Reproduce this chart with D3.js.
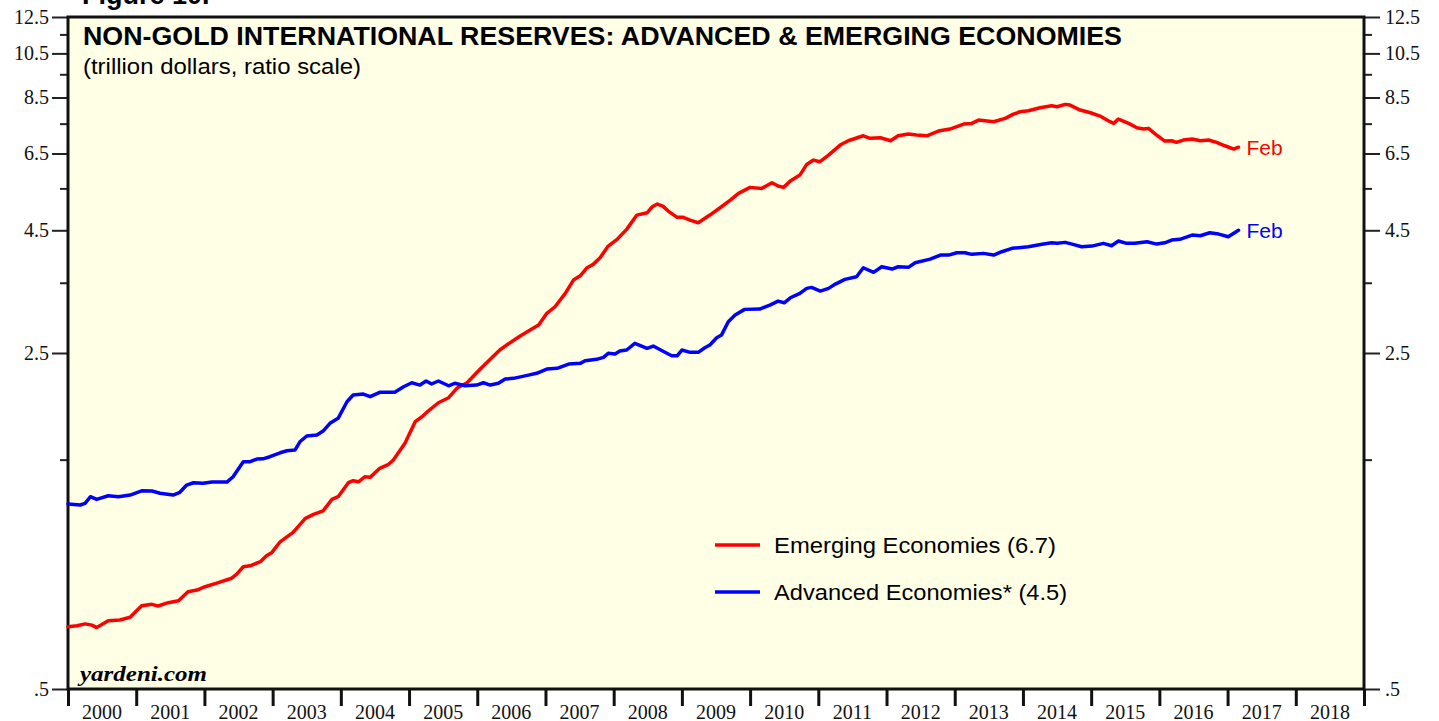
<!DOCTYPE html>
<html>
<head>
<meta charset="utf-8">
<style>
    body { margin: 0; background: #fff; }
    svg { display: block; }
    .ax text { font-family: "Liberation Serif", "Times New Roman", serif; font-size: 20px; fill: #111; }
    .ax path { display: none; }
    .ax line { stroke: #222; stroke-width: 2; }
    .xax line { stroke: #111; stroke-width: 3; }
</style>
</head>
<body>
<svg width="1439" height="721"></svg>
<script src="https://d3js.org/d3.v7.min.js"></script>
<script>
// values (trillion $, ratio scale), time in decimal years
let emYears = [2000.00, 2000.13, 2000.25, 2000.35, 2000.42, 2000.59, 2000.76, 2000.91, 2001.08, 2001.23,
    2001.32, 2001.47, 2001.62, 2001.76, 2001.89, 2002.01, 2002.18, 2002.40, 2002.47, 2002.57,
    2002.67, 2002.82, 2002.91, 2002.99, 2003.11, 2003.30, 2003.48, 2003.60, 2003.74, 2003.87,
    2003.96, 2004.11, 2004.18, 2004.26, 2004.35, 2004.43, 2004.57, 2004.70, 2004.77, 2004.94,
    2005.09, 2005.19, 2005.28, 2005.43, 2005.58, 2005.70, 2005.85, 2006.04, 2006.19, 2006.33,
    2006.43, 2006.63, 2006.80, 2006.90, 2007.02, 2007.14, 2007.29, 2007.41, 2007.51, 2007.61,
    2007.70, 2007.80, 2007.92, 2008.05, 2008.19, 2008.34, 2008.49, 2008.56, 2008.64, 2008.72,
    2008.80, 2008.93, 2009.02, 2009.12, 2009.24, 2009.41, 2009.56, 2009.71, 2009.83, 2010.00,
    2010.17, 2010.32, 2010.41, 2010.49, 2010.59, 2010.73, 2010.83, 2010.93, 2011.02, 2011.15,
    2011.32, 2011.44, 2011.66, 2011.76, 2011.91, 2012.06, 2012.17, 2012.32, 2012.44, 2012.59,
    2012.76, 2012.93, 2013.13, 2013.25, 2013.35, 2013.57, 2013.74, 2013.86, 2013.96, 2014.08,
    2014.25, 2014.42, 2014.50, 2014.62, 2014.69, 2014.84, 2014.99, 2015.13, 2015.25, 2015.33,
    2015.40, 2015.55, 2015.67, 2015.77, 2015.84, 2015.96, 2016.08, 2016.18, 2016.25, 2016.35,
    2016.48, 2016.60, 2016.72, 2016.84, 2016.96, 2017.09, 2017.16]
let emValues = [0.674, 0.677, 0.683, 0.679, 0.671, 0.693, 0.696, 0.705, 0.745, 0.750,
    0.744, 0.756, 0.763, 0.797, 0.803, 0.816, 0.830, 0.850, 0.866, 0.898,
    0.902, 0.920, 0.947, 0.962, 1.012, 1.059, 1.132, 1.154, 1.174, 1.240,
    1.256, 1.343, 1.356, 1.349, 1.382, 1.378, 1.439, 1.467, 1.497, 1.622,
    1.799, 1.842, 1.893, 1.970, 2.018, 2.111, 2.168, 2.312, 2.425, 2.536,
    2.597, 2.711, 2.804, 2.858, 3.023, 3.120, 3.326, 3.545, 3.619, 3.761,
    3.822, 3.945, 4.172, 4.309, 4.520, 4.840, 4.894, 5.029, 5.102, 5.053,
    4.934, 4.788, 4.788, 4.726, 4.666, 4.840, 5.013, 5.201, 5.370, 5.527,
    5.500, 5.650, 5.562, 5.527, 5.697, 5.862, 6.170, 6.299, 6.248, 6.452,
    6.769, 6.909, 7.077, 6.990, 7.009, 6.909, 7.077, 7.134, 7.100, 7.077,
    7.237, 7.307, 7.484, 7.509, 7.629, 7.567, 7.692, 7.851, 7.939, 7.977,
    8.092, 8.170, 8.131, 8.225, 8.198, 8.004, 7.901, 7.777, 7.604, 7.509,
    7.666, 7.509, 7.353, 7.307, 7.332, 7.100, 6.899, 6.909, 6.857, 6.933,
    6.966, 6.909, 6.933, 6.857, 6.746, 6.640, 6.700]

let advYears = [2000.00, 2000.18, 2000.25, 2000.33, 2000.42, 2000.59, 2000.74, 2000.91, 2001.08, 2001.23,
    2001.35, 2001.54, 2001.64, 2001.74, 2001.84, 2001.98, 2002.11, 2002.33, 2002.42, 2002.57,
    2002.67, 2002.77, 2002.86, 2002.96, 2003.11, 2003.21, 2003.33, 2003.40, 2003.50, 2003.65,
    2003.74, 2003.84, 2003.96, 2004.09, 2004.18, 2004.33, 2004.43, 2004.57, 2004.70, 2004.79,
    2004.92, 2005.04, 2005.16, 2005.25, 2005.33, 2005.43, 2005.58, 2005.67, 2005.82, 2005.99,
    2006.09, 2006.19, 2006.31, 2006.41, 2006.53, 2006.75, 2006.87, 2007.02, 2007.17, 2007.34,
    2007.51, 2007.58, 2007.75, 2007.85, 2007.92, 2008.02, 2008.09, 2008.19, 2008.31, 2008.49,
    2008.58, 2008.71, 2008.85, 2008.93, 2009.00, 2009.12, 2009.24, 2009.33, 2009.41, 2009.51,
    2009.58, 2009.68, 2009.78, 2009.92, 2010.14, 2010.29, 2010.41, 2010.50, 2010.59, 2010.73,
    2010.83, 2010.90, 2011.03, 2011.15, 2011.25, 2011.39, 2011.56, 2011.66, 2011.81, 2011.93,
    2012.08, 2012.17, 2012.32, 2012.42, 2012.64, 2012.79, 2012.91, 2013.03, 2013.15, 2013.25,
    2013.42, 2013.57, 2013.69, 2013.84, 2014.08, 2014.28, 2014.42, 2014.50, 2014.62, 2014.72,
    2014.86, 2015.01, 2015.18, 2015.30, 2015.40, 2015.52, 2015.64, 2015.82, 2015.96, 2016.08,
    2016.18, 2016.30, 2016.48, 2016.60, 2016.74, 2016.87, 2017.01, 2017.16]
let advValues = [1.213, 1.207, 1.217, 1.256, 1.240, 1.262, 1.256, 1.266, 1.292, 1.291,
    1.277, 1.266, 1.283, 1.328, 1.343, 1.339, 1.347, 1.347, 1.382, 1.485,
    1.485, 1.504, 1.506, 1.521, 1.550, 1.565, 1.571, 1.634, 1.680, 1.688,
    1.720, 1.785, 1.828, 1.979, 2.044, 2.054, 2.028, 2.071, 2.071, 2.071,
    2.127, 2.168, 2.144, 2.186, 2.155, 2.186, 2.137, 2.162, 2.137, 2.144,
    2.168, 2.144, 2.162, 2.207, 2.214, 2.249, 2.268, 2.315, 2.323, 2.371,
    2.379, 2.409, 2.425, 2.448, 2.496, 2.488, 2.524, 2.536, 2.618, 2.557,
    2.585, 2.527, 2.467, 2.467, 2.536, 2.508, 2.508, 2.560, 2.597, 2.690,
    2.724, 2.904, 2.998, 3.081, 3.086, 3.145, 3.206, 3.180, 3.257, 3.326,
    3.407, 3.423, 3.363, 3.407, 3.478, 3.557, 3.602, 3.761, 3.679, 3.779,
    3.737, 3.779, 3.768, 3.852, 3.920, 3.996, 3.996, 4.041, 4.041, 4.010,
    4.029, 3.996, 4.061, 4.127, 4.159, 4.207, 4.239, 4.227, 4.247, 4.212,
    4.159, 4.172, 4.227, 4.179, 4.274, 4.227, 4.227, 4.259, 4.212, 4.239,
    4.294, 4.309, 4.398, 4.383, 4.447, 4.419, 4.363, 4.500]

let yearTicks = d3.range(2000, 2020)
let yearLabels = d3.range(2000, 2019)
let majorTicks = [0.5, 2.5, 4.5, 6.5, 8.5, 10.5, 12.5]
let minorTicks = [1.5, 3.5, 5.5, 7.5, 9.5, 11.5]

let svg = d3.select("svg")

let plotL = 68, plotR = 1364, plotT = 17, plotB = 689

let x = d3.scaleLinear().domain([2000, 2019]).range([plotL, plotR])
let y = d3.scaleLog().domain([0.5, 12.5]).range([plotB, plotT])

let fmt = d => d < 1 ? ".5" : d3.format(".1f")(d)

// plot background
svg.append("rect")
    .attr("x", plotL).attr("y", plotT)
    .attr("width", plotR - plotL).attr("height", plotB - plotT)
    .attr("fill", "#ffffe6")

// figure caption, cut off at the top
svg.append("text")
    .attr("x", 82).attr("y", 4)
    .style("font-family", "Liberation Sans, Arial, sans-serif")
    .style("font-weight", "bold")
    .style("font-size", "27px")
    .text("Figure 10.")

// left axis
svg.append("g").attr("class", "ax")
    .attr("transform", `translate(${plotL},0)`)
    .call(d3.axisLeft(y).tickValues(majorTicks).tickSize(16).tickPadding(3).tickFormat(fmt))
svg.append("g").attr("class", "ax")
    .attr("transform", `translate(${plotL},0)`)
    .call(d3.axisLeft(y).tickValues(minorTicks).tickSize(8).tickFormat(""))

// right axis
svg.append("g").attr("class", "ax")
    .attr("transform", `translate(${plotR},0)`)
    .call(d3.axisRight(y).tickValues(majorTicks).tickSize(16).tickPadding(5).tickFormat(fmt))
svg.append("g").attr("class", "ax")
    .attr("transform", `translate(${plotR},0)`)
    .call(d3.axisRight(y).tickValues(minorTicks).tickSize(8).tickFormat(""))

// bottom axis: year boundaries, labels centred in each year
svg.append("g").attr("class", "ax xax")
    .attr("transform", `translate(0,${plotB})`)
    .call(d3.axisBottom(x).tickValues(yearTicks).tickSize(17).tickFormat(""))

svg.append("g").attr("class", "ax")
    .selectAll("text")
    .data(yearLabels)
    .join("text")
    .attr("x", d => x(d + 0.5))
    .attr("y", 719)
    .attr("text-anchor", "middle")
    .text(d => d)

// frame
svg.append("rect")
    .attr("x", plotL).attr("y", plotT)
    .attr("width", plotR - plotL).attr("height", plotB - plotT)
    .attr("fill", "none")
    .attr("stroke", "#111")
    .attr("stroke-width", 3)

// lines
let line = d3.line()
    .x(d => x(d[0]))
    .y(d => y(d[1]))
    .curve(d3.curveLinear)

let series = [
    { name: "Emerging Economies (6.7)", color: "#ff0000", pts: d3.zip(emYears, emValues), len: 282 },
    { name: "Advanced Economies* (4.5)", color: "#0000ff", pts: d3.zip(advYears, advValues), len: 293 }
]

svg.append("g")
    .selectAll("path")
    .data(series)
    .join("path")
    .attr("d", d => line(d.pts))
    .attr("fill", "none")
    .attr("stroke", d => d.color)
    .attr("stroke-width", 3.5)
    .attr("stroke-linejoin", "round")
    .attr("stroke-linecap", "round")

// "Feb" end labels
svg.append("g")
    .selectAll("text")
    .data(series)
    .join("text")
    .attr("x", d => x(d.pts[d.pts.length - 1][0]) + 8)
    .attr("y", d => y(d.pts[d.pts.length - 1][1]) + 8)
    .style("font-family", "Liberation Sans, Arial, sans-serif")
    .style("font-size", "21px")
    .attr("fill", d => d.color)
    .text("Feb")

// title
svg.append("text")
    .attr("x", 83).attr("y", 45)
    .attr("textLength", 1039)
    .attr("lengthAdjust", "spacingAndGlyphs")
    .style("font-family", "Liberation Sans, Arial, sans-serif")
    .style("font-weight", "bold")
    .style("font-size", "25px")
    .text("NON-GOLD INTERNATIONAL RESERVES: ADVANCED & EMERGING ECONOMIES")

svg.append("text")
    .attr("x", 83).attr("y", 74)
    .attr("textLength", 278)
    .attr("lengthAdjust", "spacingAndGlyphs")
    .style("font-family", "Liberation Sans, Arial, sans-serif")
    .style("font-size", "22px")
    .text("(trillion dollars, ratio scale)")

// legend
let legend = svg.append("g")
    .selectAll("g")
    .data(series)
    .join("g")
    .attr("transform", (d, i) => `translate(715,${545 + i * 47})`)

legend.append("line")
    .attr("x1", 0).attr("x2", 45)
    .attr("stroke", d => d.color)
    .attr("stroke-width", 3.5)

legend.append("text")
    .attr("x", 59).attr("y", 8)
    .attr("textLength", d => d.len)
    .attr("lengthAdjust", "spacingAndGlyphs")
    .style("font-family", "Liberation Sans, Arial, sans-serif")
    .style("font-size", "22px")
    .text(d => d.name)

// watermark
svg.append("text")
    .attr("x", 80).attr("y", 681)
    .attr("textLength", 127)
    .attr("lengthAdjust", "spacingAndGlyphs")
    .style("font-family", "Liberation Serif, Times New Roman, serif")
    .style("font-weight", "bold")
    .style("font-style", "italic")
    .style("font-size", "22px")
    .text("yardeni.com")
</script>
</body>
</html>
